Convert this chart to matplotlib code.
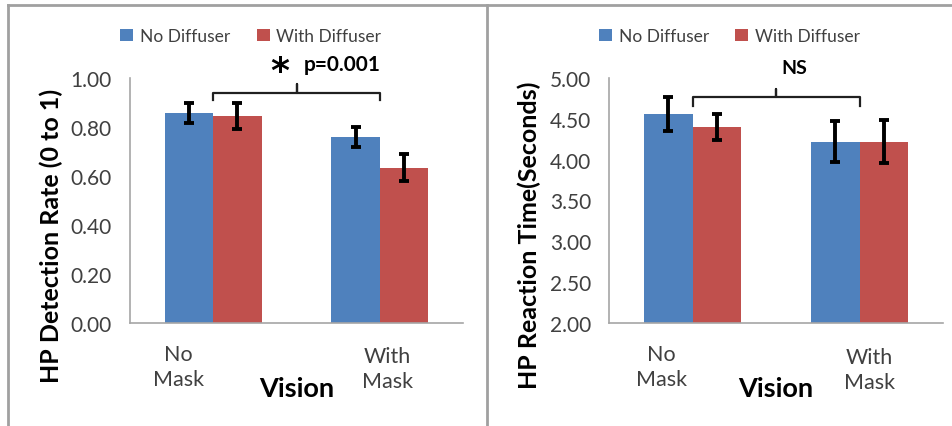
import numpy as np
import matplotlib.pyplot as plt
from matplotlib.lines import Line2D
import matplotlib.transforms as mtransforms

plt.rcParams['font.family'] = ['Lato', 'DejaVu Sans']

categories = ['No\nMask', 'With\nMask']
series = ['No Diffuser', 'With Diffuser']
colors = ['#4F81BD', '#C0504D']

# detection rate (left panel)
det_no_diff = [0.857, 0.758]
det_with_diff = [0.845, 0.633]
det_err_no = [0.040, 0.040]
det_err_with = [0.053, 0.055]

# reaction time (right panel)
rt_no_diff = [4.56, 4.22]
rt_with_diff = [4.40, 4.22]
rt_err_no = [0.21, 0.25]
rt_err_with = [0.16, 0.265]

W, H = 953, 427
fig = plt.figure(figsize=(W / 100, H / 100), dpi=100)


def px_axes(x0, y0, x1, y1):
    # pixel box (top-left origin) -> figure fraction
    return fig.add_axes([x0 / W, 1 - y1 / H, (x1 - x0) / W, (y1 - y0) / H])


# panel frame lines
for seg in [([8, 953], [6, 6]), ([8, 8], [6, 427]), ([487, 487], [6, 427])]:
    fig.add_artist(Line2D(np.array(seg[0]) / W, 1 - np.array(seg[1]) / H,
                          color='#a0a0a0', lw=2, transform=fig.transFigure))


def panel(ax, v1, v2, e1, e2, ylim, yticks, ylabel, ylab_x, leg_x,
          bracket, note, shifts):
    x = np.arange(len(categories))
    w = 0.29
    ax.bar(x - w / 2, v1, w, color=colors[0], label=series[0])
    ax.bar(x + w / 2, v2, w, color=colors[1], label=series[1])
    ax.errorbar(x - w / 2, v1, yerr=e1, fmt='none', ecolor='black',
                elinewidth=2.8, capsize=3.8, capthick=2.8)
    ax.errorbar(x + w / 2, v2, yerr=e2, fmt='none', ecolor='black',
                elinewidth=2.8, capsize=3.8, capthick=2.8)
    ax.set_xlim(-0.5, 1.5)
    ax.set_ylim(*ylim)
    ax.set_yticks(yticks)
    ax.set_yticklabels(['%.2f' % t for t in yticks])
    ax.set_xticks(x)
    ax.set_xticklabels(categories, linespacing=1.3)
    ax.tick_params(length=0, labelsize=15, colors='#404040', pad=13)
    ax.tick_params(axis='x', labelsize=15.5, pad=15)
    for lab, (dx, dy) in zip(ax.get_xticklabels(), shifts):
        lab.set_transform(lab.get_transform() +
                          mtransforms.ScaledTranslation(dx / 100, dy / 100, fig.dpi_scale_trans))
    for s in ['top', 'right']:
        ax.spines[s].set_visible(False)
    for s in ['left', 'bottom']:
        ax.spines[s].set_color('#a6a6a6')
        ax.spines[s].set_linewidth(1.2)
    ax.set_ylabel(ylabel, fontsize=18, fontweight='bold')
    ax.yaxis.set_label_coords(ylab_x, 0.36)
    ax.set_xlabel('Vision', fontsize=19.5, fontweight='bold')
    ax.xaxis.set_label_coords(0.5, -0.215)
    ax.legend(loc='center', bbox_to_anchor=(leg_x, 1.171), ncol=2, frameon=False,
              fontsize=12.5, handlelength=0.75, handleheight=0.75,
              handletextpad=0.4, columnspacing=1.5, labelcolor='#404040')
    # bracket
    yb, ye, yt = bracket
    bx = [0, 0, 0.5, 0.5, 0.5, 1, 1]
    by = [ye, yb, yb, yt, yb, yb, ye]
    ax.plot(bx, by, color='#202020', lw=1.6, clip_on=False,
            solid_joinstyle='round')
    for t, xx, yy, kw in note:
        ax.text(xx, yy, t, clip_on=False, **kw)


ax1 = px_axes(130, 79, 463, 324)
panel(ax1, det_no_diff, det_with_diff, det_err_no, det_err_with,
      (0, 1), np.arange(0, 1.01, 0.2), 'HP Detection Rate (0 to 1)',
      -0.201, 0.363, (0.939, 0.912, 0.975),
      [('*', 0.40, 1.03, dict(ha='center', va='center', fontsize=26, fontweight='bold',
                               family='DejaVu Sans')),
       ('p=0.001', 0.545, 1.057, dict(ha='left', va='center', fontsize=15, fontweight='bold'))],
      [(-35, 0), (8, -2)])

ax2 = px_axes(609, 79, 943, 324)
panel(ax2, rt_no_diff, rt_with_diff, rt_err_no, rt_err_with,
      (2, 5), np.arange(2, 5.01, 0.5), 'HP Reaction Time(Seconds)',
      -0.204, 0.36, (4.771, 4.655, 4.865),
      [('NS', 0.61, 5.13, dict(ha='center', va='center', fontsize=14, fontweight='bold'))],
      [(-31, 0), (10, -3)])

fig.savefig('out.png', dpi=100)
